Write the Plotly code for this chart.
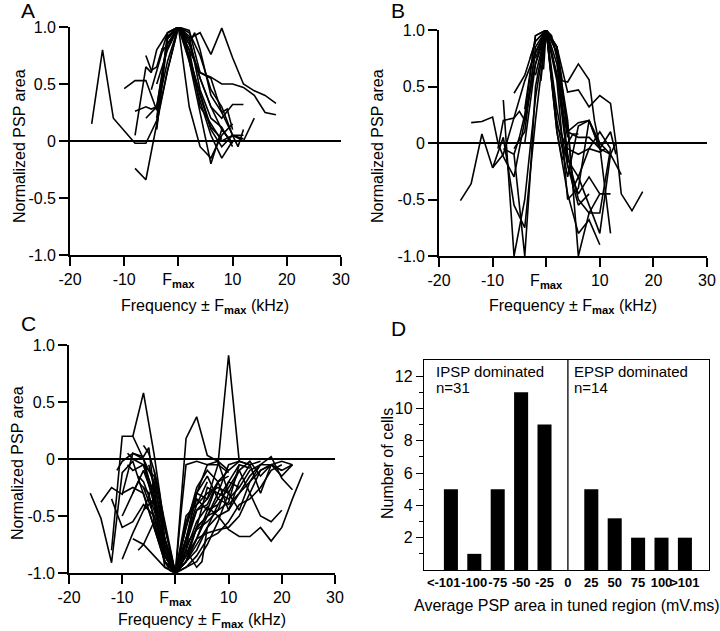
import plotly.graph_objects as go

FONT = "Arial, Liberation Sans, sans-serif"
W, H = 720, 631

# ---- panel A: EPSP-like tuning curves, normalised to peak ----
a_x = [
    [-16, -14, -12, -8, -6, -4, -2, 0, 2, 4, 6, 8],
    [-10, -8, -6, -4, -2, 0, 2, 4, 6, 8, 10],
    [-8, -6, -4, -2, 0, 2, 4, 6, 8, 10, 12, 14, 16, 18],
    [-8, -6, -5, -4, -2, 0, 2, 4, 6, 8, 10, 12, 14, 16, 18],
    [-8, -6, -5, -4, -2, 0, 2, 4, 6, 8, 10],
    [-6, -5, -4, -3, -2, 0, 2, 4, 6, 8, 10, 12],
    [-6, -4, -2, 0, 2, 4, 6, 8, 10, 12, 14],
    [-4, -2, 0, 2, 4, 6, 8, 10],
    [-4, -2, 0, 2, 4, 6, 8, 10, 12],
    [-4, -2, 0, 2, 4, 6, 8, 10, 11, 12],
    [-2, 0, 2, 4, 6, 8, 10],
    [-3, -2, 0, 1, 2, 4, 6, 8, 10],
    [-4, -2, 0, 2, 4, 6, 8, 10, 12],
    [-5, -3, 0, 2, 3, 4, 6, 8, 9, 10],
]
a_y = [
    [0.15, 0.80, 0.20, -0.02, -0.02, 0.18, 0.62, 1.0, 0.72, 0.42, 0.12, 0.02],
    [0.46, 0.53, 0.53, 0.27, 0.7, 1.0, 0.85, 0.55, 0.3, 0.1, -0.02],
    [-0.24, -0.34, 0.15, 0.62, 1.0, 0.9, 0.95, 0.76, 0.99, 0.73, 0.5, 0.44, 0.4, 0.33],
    [0.05, 0.65, 0.6, 0.8, 0.95, 1.0, 0.8, 0.6, 0.56, 0.5, 0.5, 0.47, 0.4, 0.25, 0.23],
    [0.26, 0.3, 0.28, 0.3, 0.85, 1.0, 0.7, 0.35, 0.05, -0.15, 0.0],
    [0.75, 0.62, 0.65, 0.81, 0.82, 1.0, 0.88, 0.55, 0.3, 0.2, 0.32, 0.32],
    [0.2, 0.3, 0.9, 1.0, 0.75, 0.4, 0.1, -0.05, 0.05, 0.0, 0.2],
    [0.1, 0.9, 1.0, 0.92, 0.45, 0.2, 0.12, -0.05],
    [0.12, 0.95, 1.0, 0.97, 0.6, 0.55, 0.25, 0.05, 0.05],
    [0.2, 0.92, 1.0, 0.8, 0.3, 0.15, 0.0, 0.05, -0.05, 0.1],
    [0.9, 1.0, 0.3, -0.05, -0.15, 0.05, 0.15],
    [0.8, 0.95, 1.0, 0.97, 0.7, 0.25, -0.2, 0.1, -0.02],
    [0.5, 0.8, 1.0, 0.95, 0.75, 0.45, 0.3, 0.05, 0.02],
    [0.45, 0.78, 1.0, 0.85, 0.95, 0.8, 0.4, 0.25, 0.28, 0.1],
]

# ---- panel B: mixed curves, normalised to positive peak ----
b_x = [
    [-16, -14, -12, -10, -8, -6, -4, -2, 0, 2, 4],
    [-14, -12, -10, -9, -8, -6, -4, -2, 0, 2, 4, 6, 8, 10, 12, 13, 14, 16, 18],
    [-8, -7, -6, -4, -2, 0, 2, 3, 4, 6, 8, 9, 10, 12],
    [-6, -4, -2, 0, 2, 4, 6, 8, 10, 12, 14],
    [-10, -8, -6, -4, -2, 0, 2, 4, 6, 8, 10],
    [-9, -8, -6, -5, -4, -2, 0, 2, 4, 6, 8, 10, 12],
    [-8, -6, -4, -3, -2, 0, 2, 4, 6, 8, 10, 12],
    [-6, -5, -4, -2, 0, 2, 4, 6, 8, 10],
    [-4, -2, 0, 2, 4, 6, 8, 10, 12],
    [-2, 0, 1, 2, 4, 6, 8, 10, 12, 13],
    [-1, 0, 2, 4, 6, 8, 10, 11],
    [-0.5, 0, 2, 3, 4, 5, 6],
    [-6, -4, -2, 0, 2, 4, 6, 8, 10, 12],
    [-3, -2, 0, 2, 4, 5, 6, 8, 10, 12, 13, 14],
    [-4, -2, 0, 2, 4, 6, 8, 10],
    [-2, 0, 2, 4, 6, 8],
]
b_y = [
    [-0.51, -0.36, 0.08, -0.22, -0.1, 0.22, 0.55, 0.8, 1.0, 0.6, 0.05],
    [0.18, 0.19, 0.23, 0.0, -0.12, -0.3, 0.2, 0.8, 1.0, 0.85, 0.45, 0.47, 0.32, 0.42, 0.35, 0.0, -0.45, -0.6, -0.43],
    [0.38, -0.3, -1.0, -0.5, 0.4, 1.0, 0.85, 0.55, 0.54, 0.7, 0.56, 0.2, -0.03, -0.8],
    [0.44, 0.6, 0.9, 1.0, 0.2, -0.3, 0.15, 0.2, -0.05, -0.1, -0.28],
    [-0.22, 0.05, -0.55, -0.75, 0.2, 1.0, 0.1, -0.45, -0.8, -0.68, -0.9],
    [-0.05, 0.2, 0.22, 0.28, 0.2, 0.7, 1.0, 0.8, 0.2, -1.0, -0.62, -0.62, -0.05],
    [-0.05, -0.1, -1.0, -0.3, 0.5, 1.0, 0.6, -0.15, -0.3, -0.05, 0.1, -0.05],
    [-0.1, 0.05, 0.25, 0.95, 1.0, 0.85, 0.1, 0.18, 0.2, -0.05],
    [0.3, 0.95, 1.0, 0.55, -0.5, -0.4, 0.2, 0.0, -0.1],
    [0.6, 1.0, 0.95, 0.75, 0.1, 0.05, 0.05, -0.05, 0.1, -0.1],
    [0.55, 1.0, 0.15, -0.05, -0.1, -0.05, -0.08, -0.05],
    [0.65, 1.0, 0.1, -0.15, 0.0, 0.08, 0.08],
    [-0.05, 0.1, 0.85, 1.0, 0.3, -0.2, -0.45, -0.3, -0.45, -0.45],
    [0.75, 0.9, 1.0, 0.8, 0.15, -0.4, -0.3, -0.55, -0.8, -0.1, 0.0, 0.0],
    [0.0, 0.7, 1.0, 0.7, -0.1, -0.5, -0.62, -0.45],
    [0.75, 1.0, 0.85, -0.2, -0.55, -0.45],
]

# ---- panel C: IPSP-like curves, normalised to negative peak ----
c_x = [
    [-16, -14, -12, -10, -8, -6, -4, -2, 0, 2, 4, 6, 8, 10],
    [-8, -6, -4, -2, 0, 2, 4, 6, 8, 10, 12, 14],
    [-12, -10, -8, -6, -4, -2, 0, 2, 4, 6, 8, 10, 12, 14, 16, 18, 20, 22, 24],
    [-14, -12, -10, -8, -6, -4, -2, 0, 2, 4, 6, 8, 10, 12, 14, 16, 18, 20, 22],
    [-10, -8, -6, -4, -2, 0, 2, 4, 6, 8, 10, 12, 14, 16, 18, 20, 22],
    [-11, -10, -8, -6, -5, -4, -2, 0, 2, 4, 6, 8, 10, 12, 14, 16, 18, 20],
    [-9, -8, -6, -4, -2, 0, 1, 2, 4, 6, 8, 10],
    [-6, -5, -4, -2, 0, 2, 4, 6, 8, 10, 12, 14, 16],
    [-8, -7, -6, -4, -2, 0, 2, 4, 6, 8, 10, 12, 14, 16, 18, 20],
    [-6, -4, -2, 0, 2, 4, 6, 8, 10, 12],
    [-7, -6, -4, -2, 0, 2, 3, 4, 6, 8],
    [-4, -3, -2, 0, 2, 4, 6, 8, 10, 12, 14, 16, 18],
    [-5, -4, -2, 0, 1, 2, 4, 5, 6],
    [-9, -8, -6, -4, -2, 0, 2, 4, 6, 8, 10, 12, 14, 16, 18, 20, 22],
    [-4, -2, -1, 0, 2, 4, 6, 8],
    [-6, -4, -2, 0, 2, 4, 6, 8, 10],
    [-10, -8, -6, -4, -2, 0, 2, 4, 6, 8, 10, 12, 14],
    [-5, -4, -3, -2, 0, 2, 4, 6, 8, 10, 12, 14, 16, 18, 20],
    [-8, -6, -4, -2, 0, 2, 4, 6],
    [-3, -2, -1, 0, 2, 4, 6, 8, 10, 12],
    [-12, -10, -8, -6, -4, -2, 0, 2, 4, 6, 8, 10, 12, 14, 16, 18, 20, 22],
    [-7, -6, -4, -2, 0, 2, 4, 6, 8, 10, 12, 14, 16],
    [-10, -8, -6, -4, -2, 0, 2, 4, 6, 8, 10],
    [-6, -5, -4, -2, 0, 2, 4, 6, 8, 10, 12],
]
c_y = [
    [-0.3, -0.52, -0.91, -0.12, -0.02, -0.3, -0.6, -0.85, -1.0, 0.18, 0.37, 0.03, -0.02, -0.1],
    [0.2, 0.58, 0.04, -0.6, -1.0, -0.7, -0.45, -0.35, -0.05, 0.91, -0.02, -0.05],
    [-0.8, 0.2, 0.2, 0.0, -0.35, -0.8, -1.0, -0.8, -0.55, -0.42, -0.5, -0.62, -0.68, -0.68, -0.6, -0.72, -0.6, -0.35, -0.12],
    [-0.38, -0.25, -0.31, 0.05, 0.0, -0.2, -0.7, -1.0, -0.85, -0.6, -0.5, -0.35, -0.4, -0.3, -0.15, -0.05, 0.02, -0.17, -0.27],
    [-0.88, -0.65, -0.45, -0.2, -0.7, -1.0, -0.9, -0.75, -0.6, -0.4, -0.25, -0.1, -0.02, -0.15, -0.05, -0.02, -0.05],
    [-0.1, -0.02, 0.05, 0.02, 0.1, -0.3, -0.7, -1.0, -0.7, -0.3, -0.05, -0.02, -0.3, -0.45, -0.2, -0.1, -0.05, -0.1],
    [-0.05, -0.1, -0.05, -0.15, -0.6, -1.0, -0.5, -0.05, -0.02, -0.05, -0.05, -0.12],
    [0.12, 0.05, -0.1, -0.55, -1.0, -0.6, -0.3, -0.35, -0.2, -0.45, -0.2, -0.05, -0.02],
    [-0.3, -0.2, -0.25, -0.5, -0.85, -1.0, -0.95, -0.9, -0.75, -0.55, -0.3, -0.1, -0.3, -0.5, -0.55, -0.45],
    [-0.45, -0.35, -0.75, -1.0, -0.55, -0.3, -0.15, -0.35, -0.2, -0.25],
    [-0.8, -0.75, -0.55, -0.9, -1.0, -0.8, -0.5, -0.35, -0.45, -0.4],
    [-0.1, -0.3, -0.7, -1.0, -0.9, -0.6, -0.5, -0.3, -0.05, -0.02, -0.05, -0.3, -0.05],
    [-0.35, -0.4, -0.8, -1.0, -0.95, -0.8, -0.95, -0.9, -0.6],
    [0.05, 0.0, -0.05, -0.3, -0.95, -1.0, -0.9, -0.7, -0.65, -0.62, -0.6, -0.5, -0.3, -0.1, -0.05, -0.15, -0.05],
    [-0.6, -0.9, -0.98, -1.0, -0.6, -0.25, -0.1, -0.2],
    [-0.05, -0.4, -0.9, -1.0, -0.7, -0.4, -0.3, -0.25, -0.3],
    [-0.3, -0.25, -0.3, -0.6, -0.9, -1.0, -0.85, -0.7, -0.5, -0.45, -0.2, -0.05, -0.08],
    [-0.05, -0.25, -0.6, -0.85, -1.0, -0.95, -0.85, -0.7, -0.65, -0.55, -0.4, -0.35, -0.25, -0.1, -0.05],
    [-0.7, -0.75, -0.85, -0.95, -1.0, -0.5, -0.4, -0.2],
    [-0.4, -0.8, -0.95, -1.0, -0.75, -0.62, -0.55, -0.45, -0.38, -0.05],
    [-0.35, -0.6, -0.55, -0.4, -0.5, -0.8, -1.0, -0.9, -0.8, -0.6, -0.5, -0.45, -0.3, -0.2, -0.05, -0.05, -0.1, -0.05],
    [-0.15, -0.2, -0.45, -0.75, -1.0, -0.85, -0.6, -0.25, -0.3, -0.35, -0.25, -0.1, -0.05],
    [-0.5, -0.3, -0.1, -0.35, -0.8, -1.0, -0.75, -0.45, -0.4, -0.2, -0.15],
    [-0.25, -0.3, -0.55, -0.85, -1.0, -0.9, -0.7, -0.45, -0.2, -0.1, -0.02],
]

# ---- panel D: histogram of average PSP area ----
d_labels = ["<-101", "-100", "-75", "-50", "-25", "0", "25", "50", "75", "100", ">101"]
d_counts = [5, 1, 5, 11, 9, 0, 5, 3.2, 2, 2, 2]
d_split = "0"

freq_ticks = [-20, -10, 0, 10, 20, 30]
freq_text = ["-20", "-10", "F<sub><b>max</b></sub>", "10", "20", "30"]
psp_ticks = [-1, -0.5, 0, 0.5, 1]
psp_text = ["-1.0", "-0.5", "0", "0.5", "1.0"]

fig = go.Figure()

for k, (xs, ys) in enumerate([(a_x, a_y), (b_x, b_y), (c_x, c_y)]):
    ax = "" if k == 0 else str(k + 1)
    for x, y in zip(xs, ys):
        fig.add_trace(go.Scatter(x=x, y=y, mode="lines", xaxis="x" + ax, yaxis="y" + ax,
                                 line=dict(color="black", width=1.6), hoverinfo="skip"))

fig.add_trace(go.Bar(x=list(range(len(d_labels))), y=d_counts, width=0.6,
                     marker=dict(color="black", line=dict(width=0)),
                     xaxis="x4", yaxis="y4"))


def px(v):
    return v / W


def py(v):
    return 1 - v / H


freq_axis = dict(range=[-20, 30], tickvals=freq_ticks, ticktext=freq_text,
                 ticks="outside", ticklen=9, tickwidth=1.6, tickcolor="black",
                 showline=True, linewidth=1.6, linecolor="black", automargin=False,
                 showgrid=False, zeroline=False, tickfont=dict(size=16, color="black"))
psp_axis = dict(range=[-1, 1], tickvals=psp_ticks, ticktext=psp_text,
                ticks="outside", ticklen=9, tickwidth=1.6, tickcolor="black",
                showline=True, linewidth=1.6, linecolor="black", showgrid=False,
                zeroline=True, zerolinecolor="black", zerolinewidth=1.8, automargin=False,
                tickfont=dict(size=16, color="black"))

# the first label sits a little left of its bar in the original, pad it on the right
d_ticktext = ["<b>%s</b>" % t for t in d_labels]
d_ticktext[0] = "<b>%s</b>\u00a0\u00a0\u00a0\u00a0" % d_labels[0]

fig.update_layout(
    width=W, height=H, margin=dict(l=0, r=0, t=0, b=0, pad=0, autoexpand=False),
    paper_bgcolor="white", plot_bgcolor="white", showlegend=False,
    font=dict(family=FONT, color="black"),
    xaxis=dict(freq_axis, domain=[px(70), px(341)], anchor="y"),
    yaxis=dict(psp_axis, domain=[py(255), py(27)], anchor="x"),
    xaxis2=dict(freq_axis, domain=[px(439), px(707)], anchor="y2"),
    yaxis2=dict(psp_axis, domain=[py(256), py(30)], anchor="x2"),
    xaxis3=dict(freq_axis, domain=[px(69), px(335)], anchor="y3"),
    yaxis3=dict(psp_axis, domain=[py(573), py(345)], anchor="x3"),
    xaxis4=dict(domain=[px(424), px(709)], anchor="y4", range=[-1.15, 11.03],
                tickvals=list(range(len(d_labels))), ticktext=d_ticktext, ticks="",
                showline=True, mirror=True, linewidth=1.3, linecolor="black",
                showgrid=False, zeroline=False, automargin=False,
                tickfont=dict(size=13, color="black", family=FONT), tickangle=0),
    yaxis4=dict(domain=[py(570), py(360)], anchor="x4", range=[0, 13],
                tickvals=[2, 4, 6, 8, 10, 12], ticks="outside", ticklen=7, tickwidth=1.3,
                tickcolor="black", showline=True, mirror=True, linewidth=1.3,
                linecolor="black", showgrid=False, zeroline=False, automargin=False,
                tickfont=dict(size=16, color="black"),
                minor=dict(tickvals=[1, 3, 5, 7, 9, 11], ticks="outside", ticklen=4,
                           tickwidth=1.3, tickcolor="black", showgrid=False)),
)

# divider between IPSP and EPSP dominated cells
fig.add_shape(type="line", xref="x4", yref="y4", x0=d_labels.index(d_split),
              x1=d_labels.index(d_split), y0=0, y1=13, line=dict(color="black", width=1.3))

ann = []
for t, x, y in [("A", 28, 11), ("B", 398, 11), ("C", 28, 324), ("D", 398, 328)]:
    ann.append(dict(text=t, x=px(x), y=py(y), font=dict(size=21)))
title_x = "Frequency ± F<sub><b>max</b></sub> (kHz)"
for x, y in [(205, 306), (573, 307), (202, 620)]:
    ann.append(dict(text=title_x, x=px(x), y=py(y), font=dict(size=16)))
for x, y in [(20, 146), (378, 146), (17, 463)]:
    ann.append(dict(text="Normalized PSP area", x=px(x), y=py(y), textangle=-90, font=dict(size=16)))
ann.append(dict(text="Number of cells", x=px(387), y=py(464), textangle=-90, font=dict(size=16)))
ann.append(dict(text="Average PSP area in tuned region (mV.ms)", x=px(567), y=py(605), font=dict(size=16)))
for t, x, y in [("IPSP dominated", 434, 371), ("n=31", 434, 388),
                ("EPSP dominated", 572, 371), ("n=14", 572, 388)]:
    ann.append(dict(text=t, x=px(x), y=py(y), xanchor="left", font=dict(size=15)))

for a in ann:
    a.update(xref="paper", yref="paper", showarrow=False)
    a.setdefault("xanchor", "center")
    a.setdefault("yanchor", "middle")
    a["font"].update(family=FONT, color="black")
fig.update_layout(annotations=ann)

# the page body keeps its default 8px margin otherwise
fig.write_html("out.html", config={"displayModeBar": False},
               post_script="document.body.style.margin='0px';")
